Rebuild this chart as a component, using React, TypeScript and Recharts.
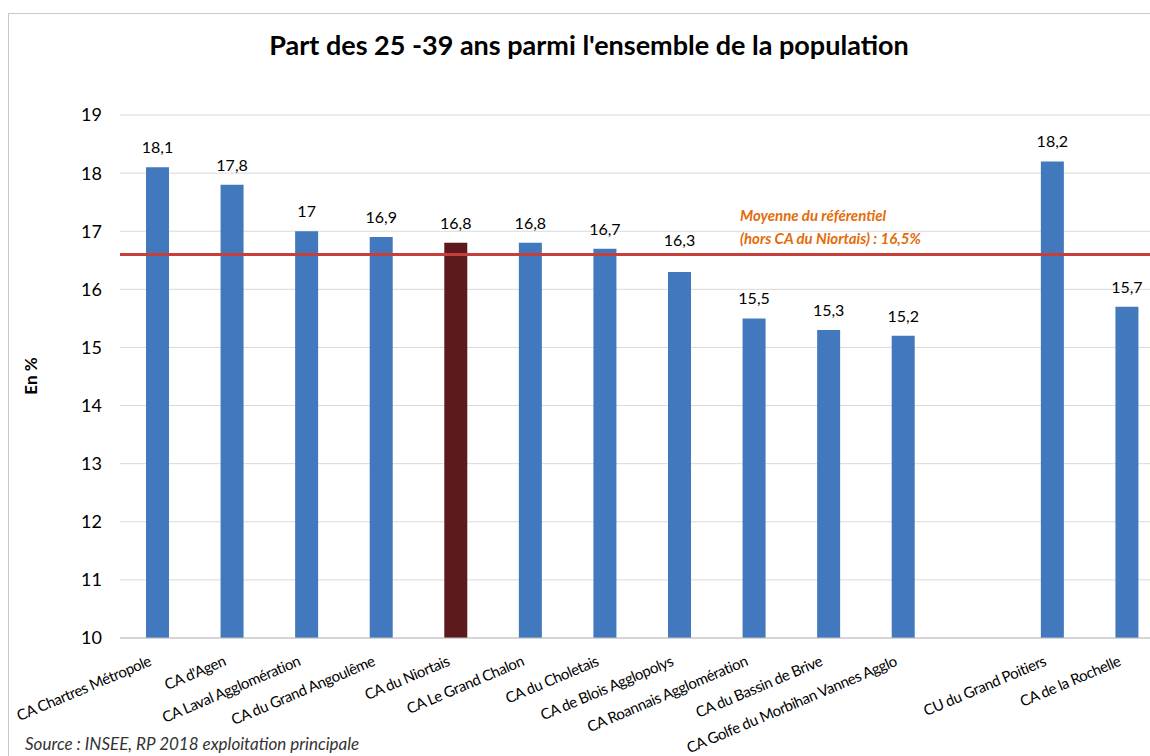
import { BarChart, Bar, XAxis, YAxis, CartesianGrid, ReferenceLine, LabelList, Cell } from "recharts";

const categories = [
  "CA Chartres Métropole",
  "CA d'Agen",
  "CA Laval Agglomération",
  "CA du Grand Angoulême",
  "CA du Niortais",
  "CA Le Grand Chalon",
  "CA du Choletais",
  "CA de Blois Agglopolys",
  "CA Roannais Agglomération",
  "CA du Bassin de Brive",
  "CA Golfe du Morbihan Vannes Agglo",
  "",
  "CU du Grand Poitiers",
  "CA de la Rochelle",
];

const shares: (number | null)[] = [18.1, 17.8, 17, 16.9, 16.8, 16.8, 16.7, 16.3, 15.5, 15.3, 15.2, null, 18.2, 15.7];

const yTicks = [10, 11, 12, 13, 14, 15, 16, 17, 18, 19];

// line as drawn in the source (labelled 16,5 %)
const avgLine = 16.6;
const avgLabel = ["Moyenne du référentiel", "(hors CA du Niortais) : 16,5%"];

const highlight = "CA du Niortais";

const data = categories.map((name, i) => ({ name, value: shares[i] }));

const FONT = "Lato, 'Open Sans', sans-serif";

// plot: 115 (19) to 638 (10)
const lineY = 115 + ((19 - avgLine) / 9) * 523;

function XTick(props: any) {
  const { x, y, payload } = props;
  if (!payload.value) return null;
  return (
    <g transform={`translate(${x - 5},${y + 19})`}>
      <text
        textAnchor="end"
        transform="rotate(-23)"
        fontSize={15}
        fontFamily={FONT}
        fill="#000"
        letterSpacing={-0.4}
      >
        {payload.value}
      </text>
    </g>
  );
}

function ValueLabel(props: any) {
  const { x, y, width, value } = props;
  if (value == null) return null;
  let ty = y - 14;
  // push a label above the average line if it would sit on it
  if (ty > lineY - 8 && ty < lineY + 16) ty = lineY - 8;
  return (
    <text
      x={x + width / 2}
      y={ty}
      textAnchor="middle"
      fontSize={16}
      fontFamily={FONT}
      fill="#000"
    >
      {String(value).replace(".", ",")}
    </text>
  );
}

function AvgLabel(props: any) {
  const { viewBox } = props;
  const y = viewBox.y;
  return (
    <text fontSize={15} fontFamily={FONT} fontStyle="italic" fontWeight={700} fill="#e46c0a">
      <tspan x={740} y={y - 33}>{avgLabel[0]}</tspan>
      <tspan x={740} y={y - 10}>{avgLabel[1]}</tspan>
    </text>
  );
}

export default function App() {
  return (
    <div
      style={{
        position: "absolute",
        left: 0,
        top: 0,
        width: 1150,
        height: 756,
        overflow: "hidden",
        background: "#fff",
        fontFamily: FONT,
      }}
    >
      <div
        style={{
          position: "absolute",
          left: 8,
          top: 13,
          width: 1200,
          height: 800,
          borderLeft: "1px solid #c8c8c8",
          borderTop: "1px solid #c8c8c8",
        }}
      />
      <div
        style={{
          position: "absolute",
          left: 0,
          top: 28,
          width: 1178,
          textAlign: "center",
          fontSize: 27,
          fontWeight: 700,
          color: "#000",
        }}
      >
        Part des 25 -39 ans parmi l'ensemble de la population
      </div>
      <div
        style={{
          position: "absolute",
          left: 30,
          top: 376,
          transform: "translate(-50%, -50%) rotate(-90deg)",
          fontSize: 17,
          fontWeight: 700,
          whiteSpace: "nowrap",
        }}
      >
        En %
      </div>
      <div style={{ position: "absolute", left: 0, top: 0 }}>
        <BarChart
          width={1170}
          height={756}
          data={data}
          margin={{ top: 115, right: 6, left: 0, bottom: 0 }}
        >
          <CartesianGrid vertical={false} stroke="#d9d9d9" />
          <XAxis
            dataKey="name"
            interval={0}
            tick={<XTick />}
            tickLine={false}
            axisLine={{ stroke: "#bfbfbf" }}
            height={118}
          />
          <YAxis
            domain={[10, 19]}
            ticks={yTicks}
            allowDataOverflow
            width={120}
            axisLine={false}
            tickLine={false}
            tickSize={0}
            tickMargin={18}
            tick={{ fontSize: 18, fill: "#000", fontFamily: FONT }}
          />
          <Bar dataKey="value" barSize={23} isAnimationActive={false}>
            {data.map((d) => (
              <Cell key={d.name || "gap"} fill={d.name === highlight ? "#5c1a1d" : "#4178be"} />
            ))}
            <LabelList dataKey="value" content={<ValueLabel />} />
          </Bar>
          <ReferenceLine y={avgLine} stroke="#c63f3b" strokeWidth={3} label={<AvgLabel />} />
        </BarChart>
      </div>
      <div
        style={{
          position: "absolute",
          left: 25,
          top: 733,
          fontSize: 17,
          fontStyle: "italic",
          color: "#333",
          whiteSpace: "nowrap",
        }}
      >
        Source : INSEE, RP 2018 exploitation principale
      </div>
    </div>
  );
}
